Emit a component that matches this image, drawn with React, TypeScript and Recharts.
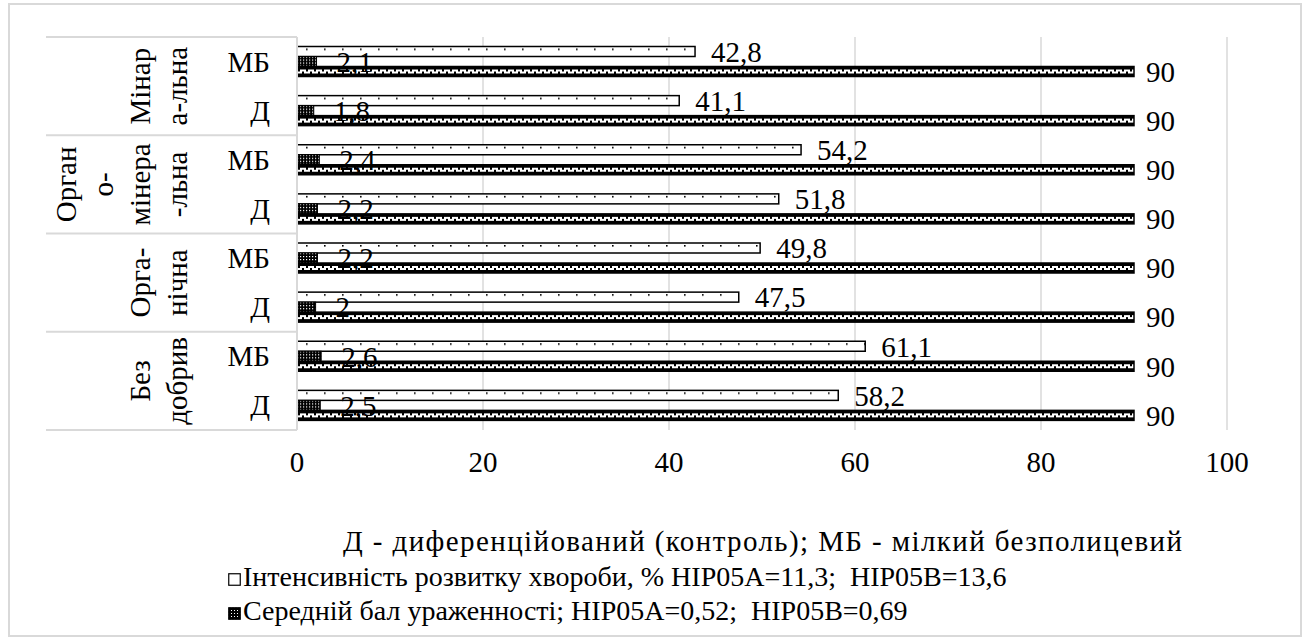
import React from "react";
import {
  BarChart,
  Bar,
  XAxis,
  YAxis,
  CartesianGrid,
  LabelList,
} from "recharts";

const subLabels = ["МБ", "Д", "МБ", "Д", "МБ", "Д", "МБ", "Д"];
const groupLabels = [
  ["Мінар", "а-льна"],
  ["Орган", "о-", "мінера", "-льна"],
  ["Орга-", "нічна"],
  ["Без", "добрив"],
];
const intensity = [42.8, 41.1, 54.2, 51.8, 49.8, 47.5, 61.1, 58.2];
const score = [2.1, 1.8, 2.4, 2.2, 2.2, 2, 2.6, 2.5];
const control = [90, 90, 90, 90, 90, 90, 90, 90];
const xTicks = [0, 20, 40, 60, 80, 100];

const legendTitle = "Д - диференційований (контроль); МБ - мілкий безполицевий";
const legendIntensity = "Інтенсивність розвитку хвороби, % НІР05А=11,3;  НІР05В=13,6";
const legendScore = "Середній бал ураженності; НІР05А=0,52;  НІР05В=0,69";

const data = subLabels.map((s, i) => ({
  id: i,
  intensity: intensity[i],
  score: score[i],
  control: control[i],
}));

const FONT = "Liberation Serif, DejaVu Serif, serif";
const FS = 29;
const W = 1305;
const H = 639;
const PLOT_L = 297;
const PLOT_R = 1227;
const PLOT_T = 37;
const PLOT_B = 430;
const TABLE_L = 46;
const BAND = (PLOT_B - PLOT_T) / subLabels.length;
const GRID = "#d9d9d9";

const comma = (v: any) => String(v).replace(".", ",");

function patternShape(id: string, sw: number) {
  return (p: any) => {
    const { x, y, width, height } = p;
    if (!width || width <= 0) return <g />;
    return (
      <g transform={`translate(${x},${y})`}>
        <rect
          width={width}
          height={height}
          fill={`url(#${id})`}
          stroke="#000"
          strokeWidth={sw}
        />
      </g>
    );
  };
}

function CategoryTick(props: any) {
  const { y, index } = props;
  const out: React.ReactNode[] = [];
  out.push(
    <text
      key="s"
      x={270}
      y={y}
      textAnchor="end"
      dominantBaseline="central"
      fontSize={FS}
      fontFamily={FONT}
      fill="#000"
    >
      {subLabels[index]}
    </text>
  );
  if (index % 2 === 0) {
    const lines = groupLabels[index / 2];
    const gy = y + BAND / 2;
    out.push(
      <line key="t" x1={TABLE_L} x2={PLOT_L} y1={y - BAND / 2} y2={y - BAND / 2} stroke={GRID} strokeWidth={2} />
    );
    lines.forEach((ln, i) => {
      const lx = 177 - (lines.length - 1 - i) * 37;
      out.push(
        <text
          key={"g" + i}
          x={lx}
          y={gy}
          transform={`rotate(-90 ${lx} ${gy})`}
          textAnchor="middle"
          dominantBaseline="central"
          fontSize={FS}
          fontFamily={FONT}
          fill="#000"
        >
          {ln}
        </text>
      );
    });
  }
  if (index === subLabels.length - 1) {
    out.push(
      <line key="b" x1={TABLE_L} x2={PLOT_L} y1={y + BAND / 2} y2={y + BAND / 2} stroke={GRID} strokeWidth={2} />
    );
  }
  return <g>{out}</g>;
}

const labelStyle = { fontSize: FS, fontFamily: FONT, fill: "#000" };

function Marker({ kind }: { kind: string }) {
  return (
    <svg width={13} height={13} style={{ marginRight: 2, verticalAlign: "middle" }}>
      <rect
        x={0.75}
        y={0.75}
        width={11.5}
        height={11.5}
        fill={kind === "i" ? "url(#legI)" : "url(#legS)"}
        stroke="#000"
        strokeWidth={1.2}
      />
    </svg>
  );
}

const legendLine: React.CSSProperties = {
  position: "absolute",
  fontSize: 28,
  lineHeight: "34px",
  whiteSpace: "pre",
  color: "#000",
};

export default function App() {
  return (
    <div
      style={{
        position: "absolute",
        left: 0,
        top: 0,
        width: W,
        height: H,
        background: "#fff",
        fontFamily: FONT,
      }}
    >
      <div
        style={{
          position: "absolute",
          left: 8,
          top: 3,
          width: 1290,
          height: 630,
          border: `2px solid ${GRID}`,
        }}
      />
      <svg width={0} height={0} style={{ position: "absolute" }}>
        <defs>
          <pattern id="legI" patternUnits="userSpaceOnUse" width={6} height={6}>
            <rect width={6} height={6} fill="#fff" />
            <rect x={6} y={7} width={1.5} height={1.5} fill="#000" />
          </pattern>
          <pattern id="legS" patternUnits="userSpaceOnUse" width={3} height={3}>
            <rect width={3} height={3} fill="#000" />
            <rect x={0} y={0} width={1} height={1} fill="#fff" />
          </pattern>
        </defs>
      </svg>
      <div style={{ position: "absolute", left: 0, top: 0 }}>
        <BarChart
          width={W}
          height={H}
          data={data}
          layout="vertical"
          barGap={0}
          barCategoryGap={9.5}
          margin={{ top: PLOT_T, right: W - PLOT_R, bottom: H - PLOT_B - 60, left: TABLE_L }}
        >
          <defs>
            <pattern id="patI" patternUnits="userSpaceOnUse" width={18} height={10}>
              <rect width={18} height={10} fill="#fff" />
              <rect x={9} y={2} width={1.6} height={1.6} fill="#000" />
            </pattern>
            <pattern id="patS" patternUnits="userSpaceOnUse" width={3} height={3}>
              <rect width={3} height={3} fill="#000" />
              <rect x={0} y={0} width={1.2} height={1.2} fill="#fff" />
            </pattern>
            <pattern id="patC" patternUnits="userSpaceOnUse" width={8} height={10}>
              <rect width={8} height={10} fill="#000" />
              <rect x={0} y={3} width={8} height={4} fill="#fff" />
              <rect x={1} y={3} width={2} height={2} fill="#000" />
              <rect x={5} y={5} width={2} height={2} fill="#000" />
            </pattern>
          </defs>
          <CartesianGrid horizontal={false} stroke={GRID} strokeWidth={1.5} />
          <XAxis
            type="number"
            domain={[0, 100]}
            ticks={xTicks}
            axisLine={false}
            tickLine={false}
            height={60}
            tickMargin={15}
            tick={{ fontSize: FS, fontFamily: FONT, fill: "#000" }}
          />
          <YAxis
            type="category"
            dataKey="id"
            width={PLOT_L - TABLE_L}
            axisLine={{ stroke: GRID, strokeWidth: 2 }}
            tickLine={false}
            tick={(p: any) => <CategoryTick {...p} />}
          />
          <Bar dataKey="intensity" isAnimationActive={false} shape={patternShape("patI", 1.5)}>
            <LabelList dataKey="intensity" position="right" offset={16} formatter={comma} style={labelStyle} />
          </Bar>
          <Bar dataKey="score" isAnimationActive={false} shape={patternShape("patS", 1)}>
            <LabelList dataKey="score" position="right" offset={20} formatter={comma} style={labelStyle} />
          </Bar>
          <Bar dataKey="control" isAnimationActive={false} shape={patternShape("patC", 1.5)}>
            <LabelList dataKey="control" position="right" offset={12} formatter={comma} style={labelStyle} />
          </Bar>
        </BarChart>
      </div>
      <div style={{ ...legendLine, left: 343, top: 541 - 17, fontSize: 29, letterSpacing: 1.4 }}>
        {legendTitle}
      </div>
      <div style={{ ...legendLine, left: 228, top: 577 - 17 }}>
        <Marker kind="i" />
        {legendIntensity}
      </div>
      <div style={{ ...legendLine, left: 228, top: 611 - 17 }}>
        <Marker kind="s" />
        {legendScore}
      </div>
    </div>
  );
}
